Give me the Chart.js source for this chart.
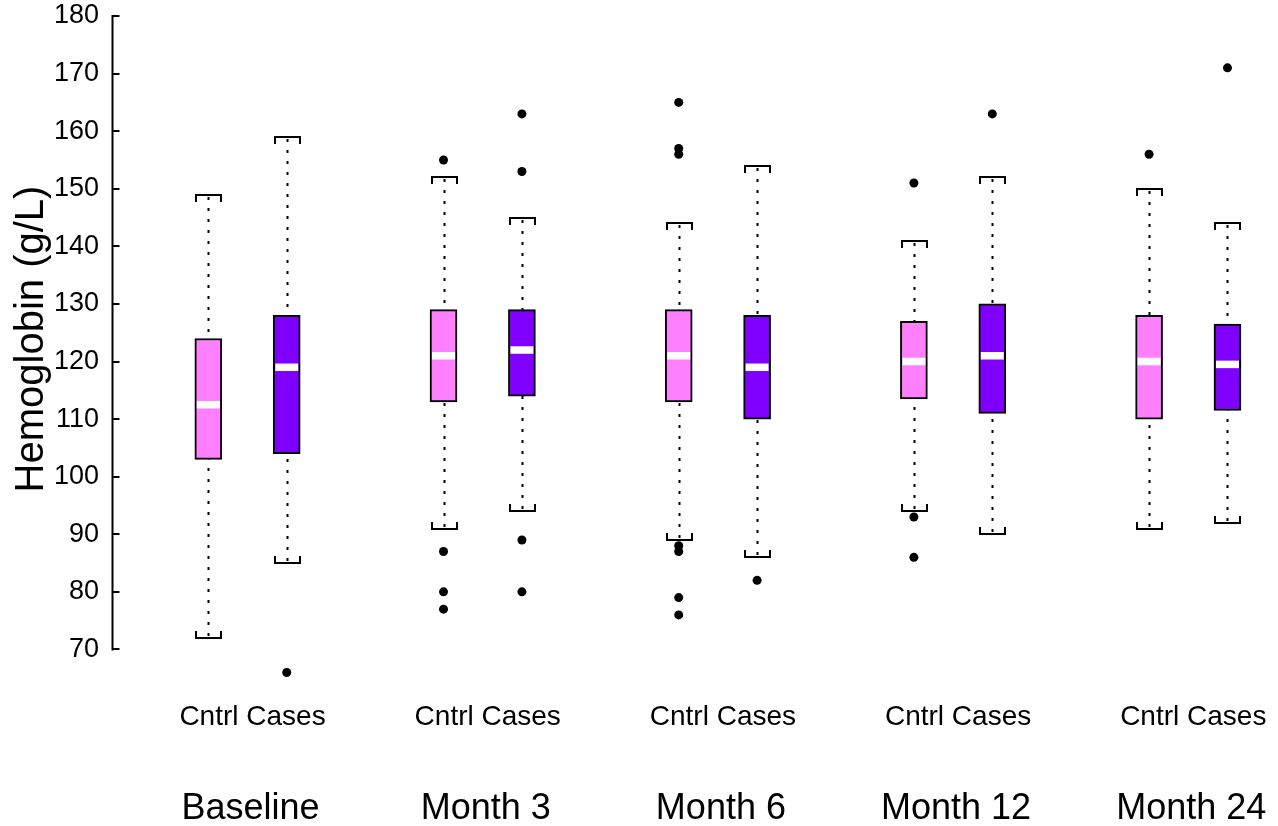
<!DOCTYPE html>
<html>
<head>
<meta charset="utf-8">
<title>Hemoglobin by visit</title>
<script src="https://cdn.jsdelivr.net/npm/chart.js@4.4.1/dist/chart.umd.min.js"></script>
<style>
  html, body { margin: 0; padding: 0; background: #ffffff; }
  #wrap { width: 1278px; height: 826px; position: relative; }
</style>
</head>
<body>
<div id="wrap"><canvas id="c" width="1278" height="826"></canvas></div>
<script>
// Visits and arms
const timepoints = ['Baseline', 'Month 3', 'Month 6', 'Month 12', 'Month 24'];
const armLabels = ['Cntrl', 'Cases'];
const yTicks = [70, 80, 90, 100, 110, 120, 130, 140, 150, 160, 170, 180];

// Control arm: five-number summaries per visit (g/L)
const cntrlLow    = [72, 91, 89, 94, 91];
const cntrlQ1     = [103, 113, 113, 113.5, 110];
const cntrlMedian = [112.5, 121, 121, 120, 120];
const cntrlQ3     = [124, 129, 129, 127, 128];
const cntrlHigh   = [149, 152, 144, 141, 150];
const cntrlOutliers = [[], [155, 87, 80, 77], [165, 157, 156, 88, 87, 79, 76], [151, 93, 86], [156]];

// Cases arm
const casesLow    = [85, 94, 86, 90, 92];
const casesQ1     = [104, 114, 110, 111, 111.5];
const casesMedian = [119, 122, 119, 121, 119.5];
const casesQ3     = [128, 129, 128, 130, 126.5];
const casesHigh   = [159, 145, 154, 152, 144];
const casesOutliers = [[66], [163, 153, 89, 80], [82], [163], [171]];

// Slot on the x axis: two boxes per visit, one empty slot between visits
const cntrlPos = timepoints.map((_, i) => 3 * i + 1);
const casesPos = timepoints.map((_, i) => 3 * i + 2);

const FONT = "'Liberation Sans', Arial, Helvetica, sans-serif";
const BOX_W = 27;
const PINK = '#FF80FF';
const PURPLE = '#8000FF';

const arms = [
  { pos: cntrlPos, lo: cntrlLow, q1: cntrlQ1, med: cntrlMedian, q3: cntrlQ3, hi: cntrlHigh, out: cntrlOutliers },
  { pos: casesPos, lo: casesLow, q1: casesQ1, med: casesMedian, q3: casesQ3, hi: casesHigh, out: casesOutliers }
];

const outlierPoints = [];
arms.forEach(a => a.out.forEach((vals, i) => vals.forEach(v => outlierPoints.push({ x: a.pos[i], y: v }))));

// Whiskers, caps, median bars, the y axis line and the text around the plot
const boxParts = {
  id: 'boxParts',
  beforeDatasetsDraw(chart) {
    const { ctx, scales: { x, y } } = chart;
    const half = BOX_W / 2;
    ctx.save();
    ctx.strokeStyle = '#000';
    arms.forEach(a => a.pos.forEach((p, i) => {
      const cx = Math.round(x.getPixelForValue(p)) + 0.5;
      const yHi = Math.round(y.getPixelForValue(a.hi[i]));
      const yLo = Math.round(y.getPixelForValue(a.lo[i]));
      const yQ3 = y.getPixelForValue(a.q3[i]);
      const yQ1 = y.getPixelForValue(a.q1[i]);
      // dotted whiskers
      ctx.lineWidth = 2;
      ctx.setLineDash([3, 8]);
      ctx.beginPath();
      ctx.moveTo(cx, yHi + 2); ctx.lineTo(cx, yQ3);
      ctx.moveTo(cx, yLo - 2); ctx.lineTo(cx, yQ1);
      ctx.stroke();
      // bracket caps
      ctx.setLineDash([]);
      ctx.beginPath();
      ctx.moveTo(cx - half + 1, yHi + 7); ctx.lineTo(cx - half + 1, yHi); ctx.lineTo(cx + half - 1, yHi); ctx.lineTo(cx + half - 1, yHi + 7);
      ctx.moveTo(cx - half + 1, yLo - 7); ctx.lineTo(cx - half + 1, yLo); ctx.lineTo(cx + half - 1, yLo); ctx.lineTo(cx + half - 1, yLo - 7);
      ctx.stroke();
    }));
    ctx.restore();
  },
  afterDatasetsDraw(chart) {
    const { ctx, scales: { x, y } } = chart;
    ctx.save();
    ctx.fillStyle = '#ffffff';
    arms.forEach(a => a.pos.forEach((p, i) => {
      const cx = x.getPixelForValue(p);
      const ym = y.getPixelForValue(a.med[i]);
      ctx.fillRect(cx - BOX_W / 2 + 2, ym - 3.75, BOX_W - 4, 7.5);
    }));
    ctx.restore();
  },
  afterDraw(chart) {
    const { ctx, chartArea, scales: { x, y } } = chart;
    ctx.save();
    // y axis line with inward tick marks
    const ax = chartArea.left - 0.5;
    ctx.strokeStyle = '#000';
    ctx.lineWidth = 2;
    ctx.beginPath();
    ctx.moveTo(ax, y.getPixelForValue(yTicks[0]) + 1);
    ctx.lineTo(ax, y.getPixelForValue(yTicks[yTicks.length - 1]) - 1);
    yTicks.forEach(v => {
      const ty = Math.round(y.getPixelForValue(v));
      ctx.moveTo(ax - 1, ty); ctx.lineTo(ax + 7, ty);
    });
    ctx.stroke();

    // y axis title
    ctx.fillStyle = '#000';
    ctx.font = '40px ' + FONT;
    ctx.textAlign = 'center';
    ctx.textBaseline = 'alphabetic';
    ctx.save();
    ctx.translate(43, 339);
    ctx.rotate(-Math.PI / 2);
    ctx.fillText('Hemoglobin (g/L)', 0, 0);
    ctx.restore();

    // arm and visit labels under each pair of boxes
    timepoints.forEach((t, i) => {
      const cx = x.getPixelForValue((cntrlPos[i] + casesPos[i]) / 2);
      ctx.font = '28px ' + FONT;
      ctx.fillText(armLabels.join(' '), cx + 5, 725);
      ctx.font = '36px ' + FONT;
      ctx.fillText(t, cx + 3, 819);
    });
    ctx.restore();
  }
};

new Chart(document.getElementById('c'), {
  type: 'bar',
  data: {
    datasets: [
      {
        label: armLabels[0],
        type: 'bar',
        data: cntrlPos.map((p, i) => ({ x: p, y: [cntrlQ1[i], cntrlQ3[i]] })),
        backgroundColor: PINK,
        borderColor: '#000',
        borderWidth: 2,
        borderSkipped: false,
        barThickness: BOX_W,
        grouped: false,
        order: 2
      },
      {
        label: armLabels[1],
        type: 'bar',
        data: casesPos.map((p, i) => ({ x: p, y: [casesQ1[i], casesQ3[i]] })),
        backgroundColor: PURPLE,
        borderColor: '#000',
        borderWidth: 2,
        borderSkipped: false,
        barThickness: BOX_W,
        grouped: false,
        order: 2
      },
      {
        label: 'Outliers',
        type: 'scatter',
        data: outlierPoints,
        pointRadius: 4.5,
        pointBackgroundColor: '#000',
        pointBorderWidth: 0,
        order: 0
      }
    ]
  },
  options: {
    responsive: false,
    animation: false,
    layout: { padding: { top: 16, right: 0, bottom: 142, left: 0 } },
    plugins: { legend: { display: false }, tooltip: { enabled: false } },
    scales: {
      x: {
        type: 'linear',
        min: -0.216,
        max: 14.587,
        offset: false,
        display: false
      },
      y: {
        type: 'linear',
        min: 64,
        max: 180,
        grid: { display: false, drawTicks: false, tickLength: 0 },
        border: { display: false },
        afterFit(scale) {
          scale.width = 113;
          scale.paddingTop = 0;
          scale.paddingBottom = 0;
        },
        afterBuildTicks(scale) { scale.ticks = yTicks.map(v => ({ value: v })); },
        ticks: {
          padding: 14,
          color: '#000',
          font: { family: FONT, size: 27, lineHeight: 1 }
        }
      }
    }
  },
  plugins: [boxParts]
});
</script>
</body>
</html>
